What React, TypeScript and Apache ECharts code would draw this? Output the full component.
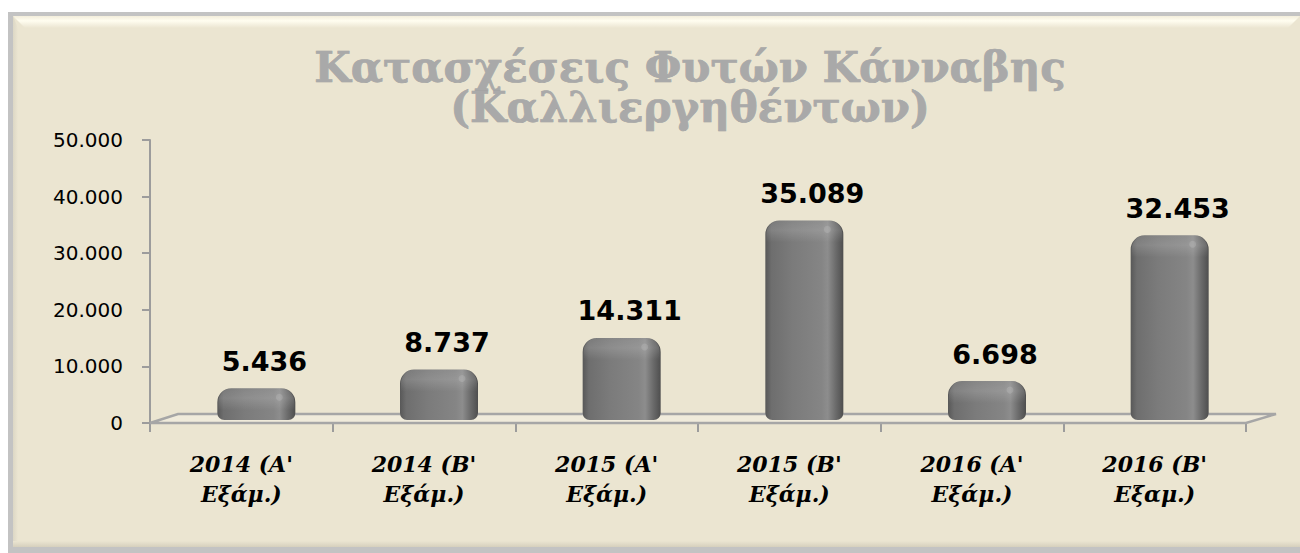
import React, { useEffect, useRef } from "react";
import * as echarts from "echarts";

const categories = [
  "2014 (Α'\nΕξάμ.)",
  "2014 (Β'\nΕξάμ.)",
  "2015 (Α'\nΕξάμ.)",
  "2015 (Β'\nΕξάμ.)",
  "2016 (Α'\nΕξάμ.)",
  "2016 (Β'\nΕξαμ.)",
];
const values = [5436, 8737, 14311, 35089, 6698, 32453];
const titleLines = ["Κατασχέσεις Φυτών Κάνναβης", "(Καλλιεργηθέντων)"];
const yMin = 0;
const yMax = 50000;
const yInterval = 10000;

const fmt = (v: number) =>
  v === 0 ? "0" : String(Math.round(v)).replace(/\B(?=(\d{3})+(?!\d))/g, ".");

export default function App() {
  const ref = useRef<HTMLDivElement>(null);
  useEffect(() => {
    if (!ref.current) return;
    const chart = echarts.init(ref.current, null, { renderer: "svg" });
    const depthX = 28;
    const depthY = 9;
    const titleStyle = {
      x: 690,
      font: 'bold 42px "DejaVu Serif"',
      fill: "#a9a9a9",
      align: "center",
      verticalAlign: "bottom",
      stroke: "#9a9a9a",
      lineWidth: 0.6,
      shadowColor: "rgba(40,40,40,0.55)",
      shadowBlur: 2,
      shadowOffsetX: 1,
      shadowOffsetY: 2,
    };
    chart.setOption({
      animation: false,
      backgroundColor: "transparent",
      graphic: [
        { type: "text", z: 10, style: { ...titleStyle, text: titleLines[0], y: 88 } },
        { type: "text", z: 10, style: { ...titleStyle, text: titleLines[1], y: 128 } },
      ],
      grid: { left: 150, right: 54, top: 140, bottom: 130 },
      xAxis: {
        type: "category",
        data: categories,
        boundaryGap: true,
        axisLine: { show: true, lineStyle: { color: "#9c9c9c", width: 2 } },
        axisTick: { show: true, length: 9, lineStyle: { color: "#9c9c9c", width: 2 } },
        axisLabel: {
          interval: 0,
          margin: 26,
          fontFamily: "DejaVu Serif",
          fontStyle: "italic",
          fontWeight: "bold",
          fontSize: 22,
          lineHeight: 30,
          color: "#000",
        },
        splitLine: { show: false },
      },
      yAxis: {
        type: "value",
        min: yMin,
        max: yMax,
        interval: yInterval,
        axisLine: { show: true, lineStyle: { color: "#9c9c9c", width: 2 } },
        axisTick: { show: true, length: 8, lineStyle: { color: "#9c9c9c", width: 2 } },
        axisLabel: {
          margin: 27,
          fontFamily: "DejaVu Sans",
          fontSize: 20,
          color: "#000",
          formatter: (v: number) => fmt(v),
        },
        splitLine: { show: false },
      },
      series: [
        {
          type: "custom",
          data: [[0, 0]],
          silent: true,
          z: 1,
          renderItem: (params: any) => {
            const cs = params.coordSys;
            const x0 = cs.x;
            const x1 = cs.x + cs.width;
            const yb = cs.y + cs.height;
            return {
              type: "group",
              children: [
                {
                  type: "polygon",
                  shape: {
                    points: [
                      [x0, yb],
                      [x0 + depthX, yb - depthY],
                      [x1 + depthX + 2, yb - depthY],
                      [x1, yb],
                    ],
                  },
                  style: { fill: "rgba(255,255,250,0.25)", stroke: "#a6a6a6", lineWidth: 2.5 },
                },
              ],
            };
          },
        },
        {
          type: "custom",
          data: values.map((v, i) => [i, v]),
          encode: { x: 0, y: 1 },
          z: 3,
          renderItem: (params: any, api: any) => {
            const idx = api.value(0);
            const val = api.value(1);
            const top = api.coord([idx, val]);
            const base = api.coord([idx, 0]);
            const bw = api.size([1, 0])[0] * 0.427;
            const cx = top[0] + 15;
            const yTop = top[1] - 4;
            const yBot = base[1] - 3;
            const h = yBot - yTop;
            const xL = cx - bw / 2;
            return {
              type: "group",
              children: [
                {
                  type: "rect",
                  shape: { x: xL, y: yTop, width: bw, height: h, r: [14, 14, 7, 7] },
                  style: {
                    fill: new echarts.graphic.LinearGradient(0, 0, 1, 0, [
                      { offset: 0, color: "#585858" },
                      { offset: 0.08, color: "#6e6e6e" },
                      { offset: 0.35, color: "#7b7b7b" },
                      { offset: 0.72, color: "#858585" },
                      { offset: 0.8, color: "#8d8d8d" },
                      { offset: 0.9, color: "#6c6c6c" },
                      { offset: 1, color: "#4e4e4e" },
                    ]),
                  },
                },
                {
                  type: "rect",
                  shape: { x: xL + 1, y: yTop, width: bw - 2, height: Math.min(22, h), r: [14, 14, 0, 0] },
                  style: {
                    fill: new echarts.graphic.LinearGradient(0, 0, 0, 1, [
                      { offset: 0, color: "rgba(255,255,255,0.08)" },
                      { offset: 0.45, color: "rgba(255,255,255,0.14)" },
                      { offset: 1, color: "rgba(255,255,255,0)" },
                    ]),
                  },
                },
                {
                  type: "circle",
                  shape: { cx: xL + bw - 16, cy: yTop + 9, r: 3.5 },
                  style: { fill: "rgba(255,255,255,0.12)" },
                },
                {
                  type: "text",
                  style: {
                    text: fmt(val),
                    x: cx + 8,
                    y: yTop - 27,
                    align: "center",
                    verticalAlign: "middle",
                    font: 'bold 27px "DejaVu Sans"',
                    fill: "#000",
                  },
                },
              ],
            };
          },
        },
      ],
    });
    return () => chart.dispose();
  }, []);

  return (
    <div style={{ position: "fixed", left: 0, top: 0, width: 1300, height: 553, background: "#fff" }}>
      <div
        style={{
          position: "absolute",
          left: 8,
          top: 12,
          width: 1292,
          height: 541,
          background: "#c3c3c3",
        }}
      >
        <div
          style={{
            position: "absolute",
            left: 5,
            top: 4,
            right: 0,
            bottom: 6,
            background: "#ebe5d1",
          }}
        >
          <div
            style={{
              position: "absolute",
              left: 0,
              top: 0,
              right: 0,
              height: 12,
              background: "linear-gradient(to bottom, #f3eedb 0%, #fffdf0 40%, #ebe5d1 100%)",
              clipPath: "polygon(0 0, 100% 0, calc(100% - 12px) 100%, 12px 100%)",
            }}
          />
          <div
            style={{
              position: "absolute",
              left: 0,
              top: 0,
              bottom: 0,
              width: 5,
              background: "linear-gradient(to right, #dcd7c5, #ebe5d1)",
              clipPath: "polygon(0 0, 100% 12px, 100% calc(100% - 6px), 0 100%)",
            }}
          />
          <div
            style={{
              position: "absolute",
              left: 0,
              right: 0,
              bottom: 0,
              height: 6,
              background: "linear-gradient(to bottom, #ebe5d1, #d6d0bd)",
            }}
          />
        </div>
      </div>
      <div ref={ref} style={{ position: "absolute", left: 0, top: 0, width: 1300, height: 553 }} />
    </div>
  );
}
